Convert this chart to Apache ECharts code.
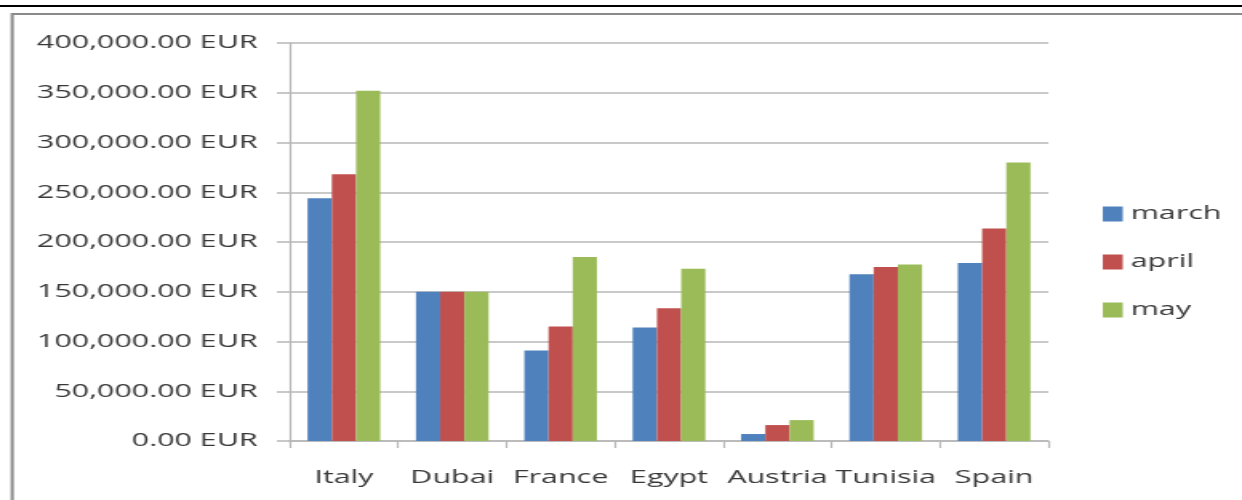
<!DOCTYPE html>
<html>
<head>
<meta charset="utf-8">
<script src="https://cdn.jsdelivr.net/npm/echarts@6/dist/echarts.min.js"></script>
<style>
  html, body { margin: 0; padding: 0; background: #fff; overflow: hidden; }
  #wrap { width: 1242px; height: 500px; overflow: hidden; }
  /* the reference picture is stretched sideways, so the chart is too */
  #chart { width: 776px; height: 500px; transform: scaleX(1.6005); transform-origin: 0 0; }
</style>
</head>
<body>
<div id="wrap"><div id="chart"></div></div>
<script>
const countries = ['Italy', 'Dubai', 'France', 'Egypt', 'Austria', 'Tunisia', 'Spain'];
const march = [244000, 150000, 91000, 114000, 7000, 167500, 179000];
const april = [268000, 150000, 115000, 133500, 16000, 175000, 213500];
const may = [352000, 150000, 185000, 173000, 21000, 177500, 280000];
const yTicks = [0, 50000, 100000, 150000, 200000, 250000, 300000, 350000, 400000];

const font = 'Open Sans';
const txt = '#383838';
const gridCol = '#b7b7b7';

function eur(v) {
  const parts = v.toFixed(2).split('.');
  return parts[0].replace(/\B(?=(\d{3})+(?!\d))/g, ',') + '.' + parts[1] + ' EUR';
}

const myChart = echarts.init(document.getElementById('chart'));
myChart.setOption({
  animation: false,
  textStyle: { fontFamily: font },
  grid: { left: 181, right: 121, top: 43, bottom: 59 },
  legend: {
    orient: 'vertical',
    left: 684,
    top: 199,
    itemWidth: 12.5,
    itemHeight: 15,
    itemGap: 28,
    icon: 'rect',
    textStyle: { fontFamily: font, fontSize: 19, color: txt, lineHeight: 20 },
    data: ['march', 'april', 'may']
  },
  xAxis: {
    type: 'category',
    data: countries,
    axisLine: { lineStyle: { color: gridCol, width: 1.5 } },
    axisTick: { show: true, length: 7, lineStyle: { color: gridCol, width: 1.2 } },
    axisLabel: { interval: 0, fontSize: 19, color: txt, margin: 27, fontFamily: font }
  },
  yAxis: {
    type: 'value',
    min: yTicks[0],
    max: yTicks[yTicks.length - 1],
    interval: yTicks[1] - yTicks[0],
    axisLine: { show: true, lineStyle: { color: gridCol, width: 1.2 } },
    axisTick: { show: true, length: 8, lineStyle: { color: gridCol, width: 1.5 } },
    splitLine: { lineStyle: { color: gridCol, width: 1.5 } },
    axisLabel: { fontSize: 19, color: txt, margin: 20, fontFamily: font, formatter: eur }
  },
  series: [
    { name: 'march', type: 'bar', data: march, itemStyle: { color: '#4f81bd' }, barGap: '0%', barCategoryGap: '33%' },
    { name: 'april', type: 'bar', data: april, itemStyle: { color: '#c0504d' } },
    { name: 'may', type: 'bar', data: may, itemStyle: { color: '#9bbb59' } }
  ],
  graphic: [
    { type: 'line', shape: { x1: 0, y1: 6, x2: 800, y2: 6 }, style: { stroke: '#000', lineWidth: 2.2 } },
    { type: 'rect', shape: { x: 7.6, y: 14, width: 900, height: 700 }, style: { fill: 'none', stroke: '#8a8a8a', lineWidth: 2 } }
  ]
});
</script>
</body>
</html>
